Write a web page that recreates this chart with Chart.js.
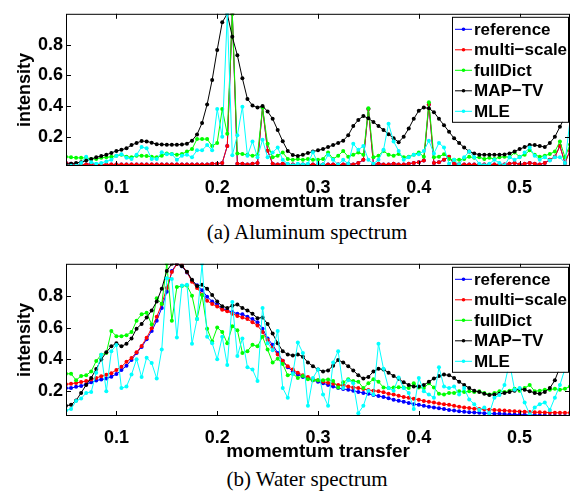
<!DOCTYPE html>
<html>
<head>
<meta charset="utf-8">
<script src="https://cdn.jsdelivr.net/npm/chart.js@4.4.1/dist/chart.umd.min.js"></script>
<style>
  html, body { margin: 0; padding: 0; background: #fff; }
  body { width: 578px; height: 491px; position: relative; overflow: hidden; }
  canvas { position: absolute; left: 0; }
  .caption {
    position: absolute; left: 107px; width: 400px; text-align: center; line-height: 24px;
    font-family: "Liberation Serif", "Times New Roman", serif; font-size: 21px; color: #000;
  }
</style>
</head>
<body>
<canvas id="aluminum" width="578" height="215" style="top:0px"></canvas>
<div class="caption" style="top:220px">(a) Aluminum spectrum</div>
<canvas id="water" width="578" height="215" style="top:250px"></canvas>
<div class="caption" style="top:467px">(b) Water spectrum</div>
<script>
// momentum transfer grid (x)
const momentum = [
  0.05,0.055,0.06,0.065,0.07,0.075,0.08,0.085,0.09,0.095,
  0.1,0.105,0.11,0.115,0.12,0.125,0.13,0.135,0.14,0.145,
  0.15,0.155,0.16,0.165,0.17,0.175,0.18,0.185,0.19,0.195,
  0.2,0.205,0.21,0.215,0.22,0.225,0.23,0.235,0.24,0.245,
  0.25,0.255,0.26,0.265,0.27,0.275,0.28,0.285,0.29,0.295,
  0.3,0.305,0.31,0.315,0.32,0.325,0.33,0.335,0.34,0.345,
  0.35,0.355,0.36,0.365,0.37,0.375,0.38,0.385,0.39,0.395,
  0.4,0.405,0.41,0.415,0.42,0.425,0.43,0.435,0.44,0.445,
  0.45,0.455,0.46,0.465,0.47,0.475,0.48,0.485,0.49,0.495,
  0.5,0.505,0.51,0.515,0.52,0.525,0.53,0.535,0.54,0.545,
  0.55
]

const seriesNames = ["reference", "multi\u2212scale", "fullDict", "MAP\u2212TV", "MLE"]
const seriesColors = ["#0000ff", "#ff0000", "#00ff00", "#000000", "#00ffff"]

const xTicks = [0.1, 0.2, 0.3, 0.4, 0.5]
const yTicks = [0.2, 0.4, 0.6, 0.8]

// (a) aluminum
const alReference = [
  0.03,0.025,0.02,0.02,0.02,0.025,0.02,0.02,0.02,0.02,
  0.02,0.02,0.02,0.02,0.02,0.02,0.02,0.02,0.02,0.02,
  0.02,0.02,0.02,0.02,0.02,0.02,0.02,0.02,0.02,0.025,
  0.025,0.03,0.14,1.0,0.025,0.025,0.02,0.025,0.03,0.39,
  0.11,0.025,0.02,0.025,0.02,0.02,0.02,0.02,0.02,0.02,
  0.02,0.02,0.02,0.02,0.02,0.02,0.025,0.02,0.03,0.05,
  0.38,0.02,0.025,0.02,0.02,0.025,0.02,0.02,0.025,0.03,
  0.035,0.045,0.41,0.03,0.035,0.05,0.07,0.025,0.02,0.02,
  0.02,0.02,0.02,0.02,0.02,0.02,0.02,0.02,0.025,0.03,
  0.02,0.025,0.03,0.025,0.02,0.03,0.05,0.07,0.14,0.03,
  0.11
]
const alMultiScale = [
  0.03,0.025,0.02,0.02,0.02,0.025,0.02,0.02,0.02,0.02,
  0.02,0.02,0.02,0.02,0.02,0.02,0.02,0.02,0.02,0.02,
  0.02,0.02,0.02,0.02,0.02,0.02,0.02,0.02,0.02,0.025,
  0.025,0.03,0.14,1.0,0.025,0.025,0.02,0.025,0.03,0.39,
  0.11,0.025,0.02,0.025,0.02,0.02,0.02,0.02,0.02,0.02,
  0.02,0.02,0.02,0.02,0.02,0.02,0.025,0.02,0.03,0.05,
  0.38,0.02,0.025,0.02,0.02,0.025,0.02,0.02,0.025,0.03,
  0.035,0.045,0.41,0.03,0.035,0.05,0.07,0.025,0.02,0.02,
  0.02,0.02,0.02,0.02,0.02,0.02,0.02,0.02,0.025,0.03,
  0.02,0.025,0.03,0.025,0.02,0.03,0.05,0.07,0.14,0.03,
  0.11
]
const alFullDict = [
  0.07,0.067,0.063,0.063,0.063,0.056,0.056,0.063,0.067,0.07,
  0.077,0.083,0.07,0.067,0.077,0.077,0.075,0.07,0.067,0.077,
  0.092,0.088,0.083,0.088,0.104,0.12,0.185,0.185,0.185,0.14,
  0.16,0.38,0.22,1.0,0.092,0.088,0.083,0.077,0.083,0.39,
  0.154,0.067,0.077,0.098,0.056,0.05,0.056,0.05,0.056,0.05,
  0.05,0.056,0.098,0.056,0.077,0.108,0.07,0.083,0.098,0.083,
  0.385,0.067,0.077,0.108,0.083,0.077,0.088,0.067,0.07,0.083,
  0.098,0.07,0.425,0.067,0.07,0.087,0.056,0.05,0.05,0.056,
  0.07,0.063,0.067,0.056,0.063,0.056,0.067,0.07,0.067,0.098,
  0.07,0.083,0.112,0.083,0.07,0.077,0.088,0.104,0.17,0.067,
  0.15
]
const alMapTv = [
  0.021,0.025,0.03,0.035,0.045,0.055,0.067,0.075,0.083,0.095,
  0.108,0.115,0.125,0.146,0.16,0.172,0.17,0.162,0.152,0.15,
  0.148,0.148,0.148,0.15,0.155,0.175,0.215,0.29,0.41,0.57,
  0.765,0.945,1.0,0.85,0.73,0.58,0.446,0.404,0.39,0.4,
  0.365,0.317,0.244,0.171,0.108,0.081,0.075,0.083,0.094,0.104,
  0.112,0.12,0.133,0.146,0.16,0.175,0.21,0.27,0.31,0.335,
  0.32,0.296,0.27,0.244,0.217,0.19,0.165,0.2,0.254,0.317,
  0.37,0.39,0.385,0.36,0.317,0.275,0.233,0.19,0.16,0.13,
  0.104,0.092,0.083,0.083,0.083,0.083,0.083,0.085,0.092,0.104,
  0.12,0.133,0.146,0.146,0.14,0.133,0.16,0.2,0.265,0.33,
  0.48
]
const alMle = [
  0.01,0.012,0.012,0.03,0.07,0.035,0.025,0.03,0.04,0.05,
  0.077,0.087,0.063,0.056,0.083,0.133,0.125,0.056,0.056,0.1,
  0.087,0.087,0.05,0.077,0.083,0.067,0.112,0.112,0.146,0.112,
  0.38,0.2,1.0,0.08,0.21,0.396,0.077,0.17,0.067,0.18,
  0.067,0.098,0.13,0.05,0.025,0.015,0.025,0.02,0.025,0.1,
  0.025,0.02,0.083,0.05,0.02,0.05,0.025,0.154,0.115,0.14,
  0.05,0.025,0.05,0.115,0.285,0.17,0.108,0.05,0.067,0.083,
  0.087,0.108,0.175,0.092,0.16,0.13,0.025,0.05,0.02,0.067,
  0.104,0.067,0.025,0.015,0.025,0.05,0.03,0.015,0.067,0.05,
  0.067,0.098,0.13,0.077,0.05,0.067,0.045,0.067,0.067,0.03,
  0.306
]

// (b) water
const wReference = [
  0.22,0.22,0.228,0.234,0.244,0.256,0.268,0.274,0.28,0.292,
  0.308,0.333,0.36,0.397,0.44,0.478,0.526,0.578,0.643,0.723,
  0.824,0.955,1.0,0.985,0.945,0.895,0.865,0.834,0.794,0.764,
  0.744,0.72,0.707,0.697,0.687,0.683,0.667,0.653,0.633,0.593,
  0.532,0.492,0.441,0.391,0.351,0.325,0.305,0.29,0.28,0.27,
  0.26,0.25,0.24,0.23,0.22,0.214,0.21,0.204,0.196,0.19,
  0.184,0.176,0.17,0.164,0.156,0.147,0.14,0.135,0.127,0.119,
  0.115,0.109,0.103,0.099,0.093,0.089,0.083,0.079,0.075,0.071,
  0.069,0.067,0.065,0.063,0.061,0.059,0.059,0.057,0.055,0.055,
  0.053,0.053,0.051,0.051,0.049,0.049,0.047,0.047,0.045,0.045,
  0.045
]
const wMultiScale = [
  0.244,0.248,0.252,0.258,0.264,0.274,0.284,0.294,0.304,0.314,
  0.334,0.354,0.385,0.409,0.445,0.485,0.536,0.596,0.667,0.747,
  0.848,0.948,0.998,0.992,0.948,0.888,0.848,0.808,0.768,0.748,
  0.732,0.712,0.703,0.687,0.673,0.663,0.653,0.633,0.613,0.572,
  0.522,0.472,0.431,0.391,0.357,0.337,0.317,0.3,0.29,0.276,
  0.27,0.26,0.254,0.248,0.24,0.236,0.23,0.224,0.22,0.214,
  0.208,0.204,0.2,0.194,0.184,0.18,0.172,0.164,0.16,0.153,
  0.147,0.139,0.135,0.129,0.123,0.119,0.115,0.109,0.103,0.099,
  0.095,0.091,0.089,0.087,0.085,0.083,0.081,0.079,0.077,0.075,
  0.073,0.071,0.07,0.069,0.068,0.067,0.066,0.066,0.065,0.065,
  0.065
]
const wFullDict = [
  0.31,0.31,0.27,0.296,0.3,0.325,0.39,0.43,0.44,0.578,
  0.546,0.546,0.552,0.572,0.643,0.683,0.693,0.619,0.784,0.748,
  1.0,0.643,0.854,0.86,0.864,0.8,0.653,0.804,0.593,0.512,
  0.6,0.572,0.502,0.608,0.583,0.441,0.452,0.492,0.482,0.542,
  0.462,0.381,0.405,0.371,0.3,0.31,0.284,0.296,0.276,0.27,
  0.27,0.27,0.274,0.264,0.224,0.256,0.276,0.264,0.26,0.22,
  0.25,0.276,0.26,0.224,0.22,0.224,0.225,0.224,0.22,0.25,
  0.224,0.22,0.25,0.224,0.184,0.18,0.19,0.19,0.2,0.196,
  0.2,0.196,0.2,0.19,0.18,0.19,0.2,0.196,0.204,0.216,
  0.204,0.22,0.24,0.2,0.204,0.21,0.21,0.216,0.21,0.216,
  0.23
]
const wMapTv = [
  0.109,0.115,0.143,0.19,0.24,0.284,0.34,0.4,0.445,0.482,
  0.502,0.482,0.498,0.532,0.593,0.623,0.663,0.707,0.764,0.844,
  0.955,1.0,1.0,0.985,0.95,0.9,0.86,0.868,0.844,0.804,
  0.764,0.734,0.723,0.737,0.744,0.723,0.707,0.687,0.659,0.663,
  0.623,0.562,0.502,0.452,0.431,0.425,0.431,0.417,0.381,0.357,
  0.337,0.325,0.331,0.361,0.397,0.381,0.357,0.331,0.3,0.28,
  0.29,0.325,0.341,0.337,0.317,0.296,0.278,0.256,0.24,0.23,
  0.23,0.24,0.26,0.28,0.296,0.305,0.3,0.284,0.26,0.24,
  0.22,0.204,0.196,0.184,0.176,0.18,0.184,0.19,0.196,0.204,
  0.216,0.21,0.2,0.19,0.184,0.196,0.22,0.27,0.351,0.441,
  0.552
]
const wMle = [
  0.079,0.089,0.139,0.155,0.19,0.196,0.317,0.43,0.2,0.452,
  0.49,0.22,0.23,0.305,0.401,0.29,0.411,0.377,0.28,0.462,
  0.91,0.905,0.538,0.864,0.868,0.498,0.653,1.0,0.542,0.502,
  0.401,0.542,0.365,0.76,0.421,0.532,0.351,0.337,0.264,0.723,
  0.502,0.458,0.578,0.22,0.16,0.31,0.506,0.441,0.109,0.284,
  0.337,0.18,0.109,0.381,0.452,0.22,0.27,0.25,0.063,0.109,
  0.204,0.18,0.498,0.341,0.22,0.204,0.287,0.22,0.19,0.089,
  0.284,0.2,0.18,0.16,0.351,0.23,0.22,0.23,0.18,0.22,
  0.149,0.119,0.083,0.099,0.063,0.16,0.176,0.24,0.381,0.21,
  0.22,0.129,0.055,0.099,0.119,0.129,0.083,0.16,0.24,0.341,
  0.844
]

const FONT = '"Liberation Sans", Arial, Helvetica, sans-serif'
Chart.defaults.font.family = FONT
Chart.defaults.font.weight = "bold"
Chart.defaults.font.size = 18
Chart.defaults.color = "#000"

// matlab-ish box: frame, inward ticks on all sides, boxed legend top-right
const matlabBox = {
  id: "matlabBox",
  afterDatasetsDraw(chart) {
    const { ctx, chartArea: a } = chart
    const x = chart.scales.x
    const y = chart.scales.y
    ctx.save()
    ctx.strokeStyle = "#000"
    ctx.lineWidth = 1
    ctx.beginPath()
    xTicks.forEach(v => {
      const px = Math.round(x.getPixelForValue(v)) + 0.5
      ctx.moveTo(px, a.bottom); ctx.lineTo(px, a.bottom - 5)
      ctx.moveTo(px, a.top); ctx.lineTo(px, a.top + 5)
    })
    yTicks.forEach(v => {
      const py = Math.round(y.getPixelForValue(v)) + 0.5
      ctx.moveTo(a.left, py); ctx.lineTo(a.left + 5, py)
      ctx.moveTo(a.right, py); ctx.lineTo(a.right - 5, py)
    })
    ctx.stroke()
    ctx.strokeRect(a.left + 0.5, a.top + 0.5, a.width - 1, a.height - 1)

    // legend
    const bx = a.right - 118, by = a.top + 3, bw = 116, bh = 105
    ctx.fillStyle = "#fff"
    ctx.fillRect(bx, by, bw, bh)
    ctx.strokeRect(bx + 0.5, by + 0.5, bw, bh)
    ctx.font = "bold 17px " + FONT
    ctx.textBaseline = "middle"
    chart.data.datasets.forEach((ds, i) => {
      const cy = by + 12.5 + i * 20.5
      ctx.strokeStyle = ds.borderColor
      ctx.beginPath()
      ctx.moveTo(bx + 3, cy); ctx.lineTo(bx + 20, cy)
      ctx.stroke()
      ctx.fillStyle = ds.borderColor
      ctx.beginPath()
      ctx.arc(bx + 11.5, cy, 1.8, 0, Math.PI * 2)
      ctx.fill()
      ctx.fillStyle = "#000"
      ctx.fillText(ds.label, bx + 22, cy + 1)
    })
    ctx.restore()
  }
}

function drawSpectrum(id, series, yMin) {
  const ctx = document.getElementById(id).getContext("2d")
  new Chart(ctx, {
    type: "line",
    data: {
      datasets: series.map((vals, i) => ({
        label: seriesNames[i],
        data: vals.map((v, k) => ({ x: momentum[k], y: v })),
        borderColor: seriesColors[i],
        backgroundColor: seriesColors[i],
        pointBackgroundColor: seriesColors[i],
        borderWidth: 1,
        pointRadius: 2,
        pointBorderWidth: 0,
        pointHoverRadius: 0,
        tension: 0,
        order: series.length - i
      }))
    },
    options: {
      responsive: false,
      animation: false,
      events: [],
      layout: { padding: { top: 7, right: 8, left: 0, bottom: 0 } },
      plugins: {
        legend: { display: false },
        tooltip: { enabled: false }
      },
      scales: {
        x: {
          type: "linear",
          min: 0.05,
          max: 0.55,
          afterBuildTicks: s => { s.ticks = xTicks.map(value => ({ value })) },
          afterFit: s => { s.height = 49 },
          ticks: { padding: 11, callback: v => Number(v).toFixed(1) },
          grid: { display: false, drawTicks: false },
          border: { display: false },
          title: { display: true, text: "momemtum transfer", font: { size: 19 }, padding: { top: 0, bottom: 2 } }
        },
        y: {
          min: yMin,
          max: 1.0,
          afterBuildTicks: s => { s.ticks = yTicks.map(value => ({ value })) },
          afterFit: s => { s.width = 66 },
          ticks: { padding: 3, callback: v => Number(v).toFixed(1) },
          grid: { display: false, drawTicks: false },
          border: { display: false },
          title: { display: true, text: "intensity", padding: { top: 14, bottom: 0 } }
        }
      }
    },
    plugins: [matlabBox]
  })
}

drawSpectrum("aluminum", [alReference, alMultiScale, alFullDict, alMapTv, alMle], 0.01)
drawSpectrum("water", [wReference, wMultiScale, wFullDict, wMapTv, wMle], 0.045)
</script>
</body>
</html>
